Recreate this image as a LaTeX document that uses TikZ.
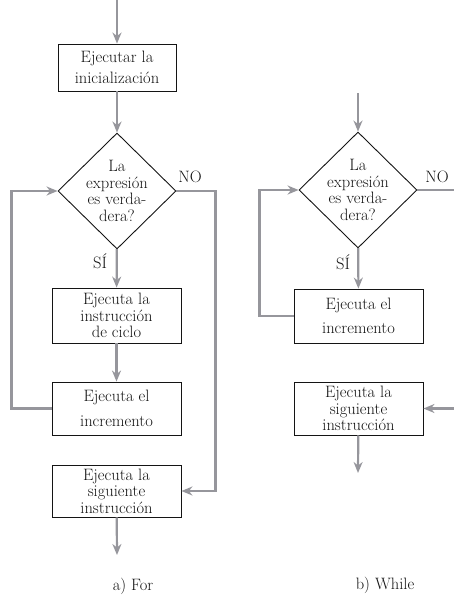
\documentclass[tikz,border=0pt]{standalone}
\usepackage{tikz}
\usetikzlibrary{
    arrows.meta,
    shapes.geometric
}
\definecolor{ink}{RGB}{20,20,20}
\definecolor{wire}{RGB}{150,150,156}
\tikzset{
    stepbox/.style={
        rectangle,
        draw=ink,
        line width=0.9pt,
        fill=white,
        minimum width=129pt,
        minimum height=53pt,
        inner sep=0pt,
        align=center,
        text=ink
    },
    decision/.style={
        diamond,
        draw=ink,
        line width=0.9pt,
        minimum width=118pt,
        minimum height=116pt,
        inner sep=0pt
    },
    decisiontext/.style={
        align=center,
        inner sep=0pt,
        text=ink
    },
    flowarrow/.style={
        -{Stealth[length=11pt,width=9pt]},
        draw=wire,
        line width=2.2pt
    },
    flowpath/.style={
        -,
        draw=wire,
        line width=2.2pt
    },
    annot/.style={
        inner sep=0pt,
        text=ink
    }
}

\begin{document}
\begin{tikzpicture}[
    x=1pt, y=-1pt,
    every node/.style={font=\fontsize{16.5}{16.5}\selectfont}
]
    \useasboundingbox (0,0) rectangle (453,597);

    % a) For
    \coordinate (fortop) at (117,0);
    \node[stepbox, minimum width=118pt, minimum height=47pt] (init) at (117,67.5) {Ejecutar la\\[5pt]inicialización};
    \node[decision] (forq) at (117,191) {};
    \node[decisiontext] (forqtext) at (forq) {La\\expresión\\es verda-\\dera?};
    \node[stepbox, minimum height=55pt] (body) at (116.5,315.5) {Ejecuta la\\instrucción\\de ciclo};
    \node[stepbox] (forinc) at (116.5,408.5) {Ejecuta el\\[8pt]incremento};
    \node[stepbox, minimum height=52pt] (fornext) at (116.5,491) {Ejecuta la\\siguiente\\instrucción};
    \coordinate (forend) at (117,555);

    \draw[flowarrow] (fortop) -- (init);
    \draw[flowarrow] (init) -- (forq);
    \draw[flowarrow] (forq) -- (body);
    \draw[flowarrow] (body) -- (forinc);
    \draw[flowarrow] (fornext) -- (forend);
    \draw[flowarrow] (forinc.west) -- ++(-40,0) |- (forq.west);
    \draw[flowarrow] (forq.east) -- ++(39,0) |- (fornext.east);

    \node[annot] (forno) at (190,177) {NO};
    \node[annot] (forsi) at (100,261) {SÍ};
    \node[annot] (forcap) at (133,586) {a) For};

    % b) While
    \coordinate (whiletop) at (358,93);
    \node[decision] (whileq) at (358,190) {};
    \node[decisiontext] (whileqtext) at (whileq) {La\\expresión\\es verda-\\dera?};
    \node[stepbox, minimum height=54pt] (whileinc) at (358.5,316) {Ejecuta el\\[8pt]incremento};
    \node[stepbox] (whilenext) at (358.5,408.5) {Ejecuta la\\siguiente\\instrucción};
    \coordinate (whileend) at (358,473);
    \coordinate (whileexit) at (456,190);
    \coordinate (whilein) at (456,408.5);

    \draw[flowarrow] (whiletop) -- (whileq);
    \draw[flowarrow] (whileq) -- (whileinc);
    \draw[flowarrow] (whilenext) -- (whileend);
    \draw[flowarrow] (whileinc.west) -- ++(-34,0) |- (whileq.west);
    \draw[flowpath] (whileq.east) -- (whileexit);
    \draw[flowarrow] (whilein) -- (whilenext.east);

    \node[annot] (whileno) at (437,177) {NO};
    \node[annot] (whilesi) at (343,262) {SÍ};
    \node[annot] (whilecap) at (385,585) {b) While};

\end{tikzpicture}
\end{document}
